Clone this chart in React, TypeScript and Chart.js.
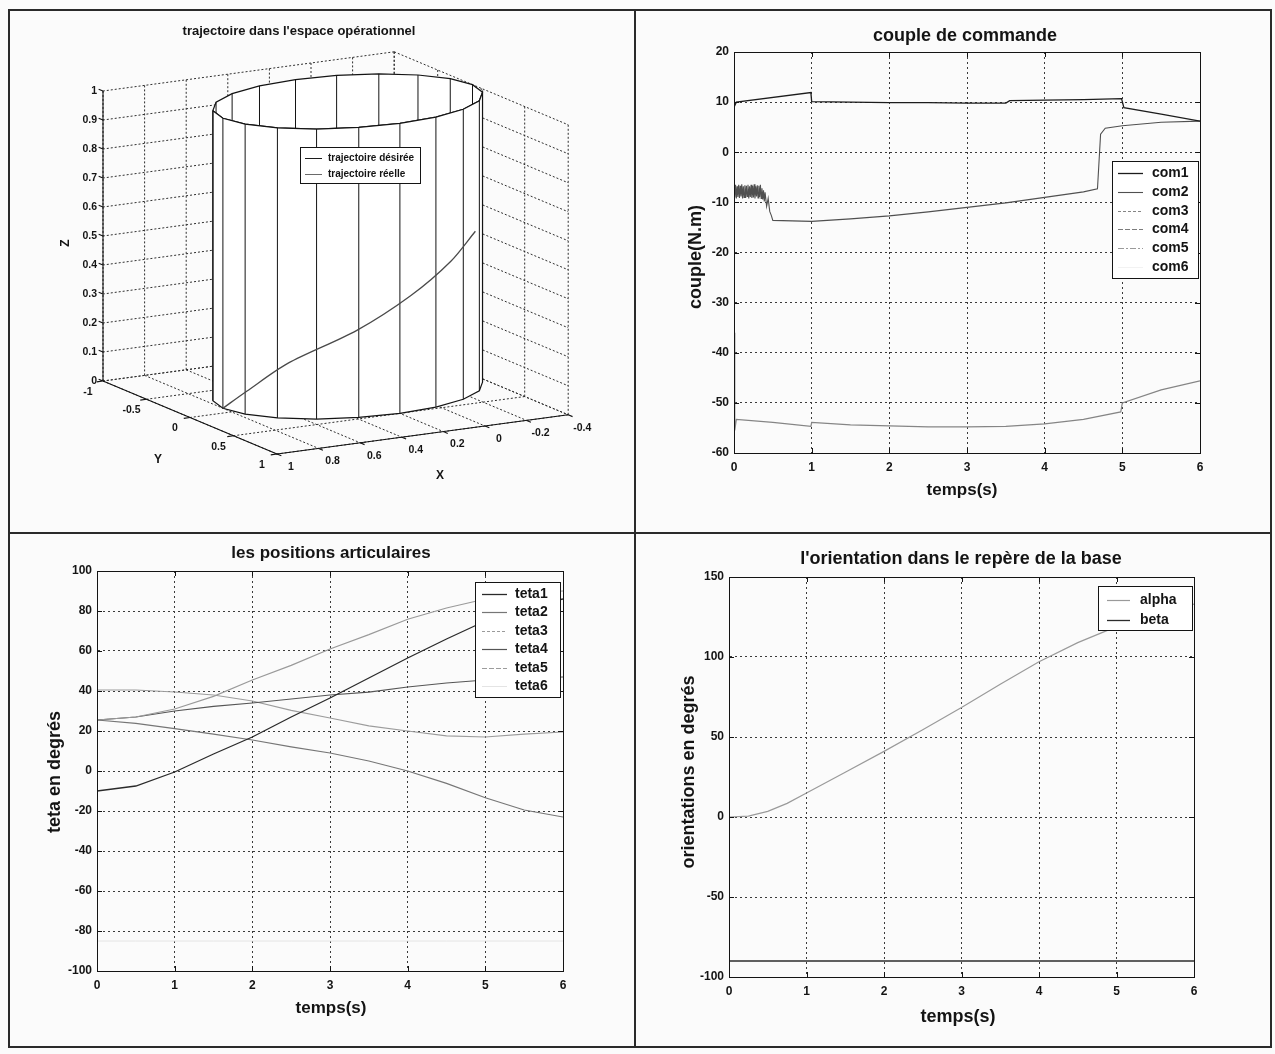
import React, { useEffect, useRef } from "react";
import { Chart, registerables } from "chart.js";

Chart.register(...registerables);

const FONT = "'Liberation Sans', Arial, Helvetica, sans-serif";
const INK = "#141414";

// ================= Panel 1 : 3D trajectory =================
const xTicks3D = [-0.4, -0.2, 0, 0.2, 0.4, 0.6, 0.8, 1];
const yTicks3D = [-1, -0.5, 0, 0.5, 1];
const zTicks3D = [0, 0.1, 0.2, 0.3, 0.4, 0.5, 0.6, 0.7, 0.8, 0.9, 1];
const xTickLabels3D = ["-0.4", "-0.2", "0", "0.2", "0.4", "0.6", "0.8", "1"];
const yTickLabels3D = ["-1", "-0.5", "0", "0.5", "1"];
const zTickLabels3D = ["0", "0.1", "0.2", "0.3", "0.4", "0.5", "0.6", "0.7", "0.8", "0.9", "1"];
const cylinderCenterXY = [0.2, -0.1];
const cylinderRadius = 0.6;
const cylinderZ = [0, 1];
const cylinderFaces = 20;
const helixAngleDeg = [0, 19, 41, 71, 95, 117, 138];
const helixZ = [0, 0.08, 0.19, 0.3, 0.4, 0.49, 0.56];
const legendLabels3D = ["trajectoire désirée", "trajectoire réelle"];

// ================= Panel 2 : couple de commande =================
const com1Time = [0, 0.03, 0.99, 1.0, 1.5, 2, 2.5, 3, 3.5, 3.55, 4, 4.5, 4.99, 5.02, 5.5, 6];
const com1Values = [9.0, 10.0, 11.9, 10.1, 10.0, 9.9, 9.9, 9.8, 9.8, 10.3, 10.4, 10.5, 10.7, 8.9, 7.6, 6.2];
const com2Time = [
  0, 0.01, 0.02, 0.03, 0.04, 0.05, 0.06, 0.07, 0.08, 0.09, 0.1, 0.11, 0.12, 0.13, 0.14, 0.15, 0.16, 0.17, 0.18, 0.19,
  0.2, 0.21, 0.22, 0.23, 0.24, 0.25, 0.26, 0.27, 0.28, 0.29, 0.3, 0.31, 0.32, 0.33, 0.34, 0.35, 0.36, 0.37, 0.38, 0.39,
  0.4, 0.42, 0.44, 0.46, 0.48, 0.5, 1, 1.5, 2, 2.5, 3, 3.5, 4, 4.5, 4.68, 4.72, 4.78, 5, 5.5, 6,
];
const com2Values = [
  -6.6, -9.0, -6.5, -9.2, -6.8, -8.9, -6.5, -9.1, -6.7, -8.8, -6.4, -9.2, -6.8, -9.0, -6.6, -9.1, -6.7, -8.8, -6.5, -9.2,
  -6.8, -8.9, -6.5, -9.1, -6.7, -9.0, -6.4, -9.2, -6.8, -8.8, -6.6, -9.1, -6.7, -8.9, -6.5, -9.2, -7.2, -9.4, -7.6, -9.8,
  -8.0, -10.8, -9.2, -11.8, -12.6, -13.6, -13.8, -13.3, -12.7, -11.9, -11.0, -10.1, -9.0, -7.9, -7.3, 3.6, 4.8, 5.3, 6.0, 6.2,
];
const com3Time = [0, 0.01, 0.03, 0.5, 0.99, 1.0, 1.5, 2, 2.5, 3, 3.5, 4, 4.5, 4.98, 5.0, 5.5, 6];
const com3Values = [-36, -55.5, -53.3, -53.9, -54.7, -53.9, -54.4, -54.6, -54.8, -54.8, -54.7, -54.2, -53.3, -51.8, -50.0, -47.4, -45.6];
const com4Time: number[] = [];
const com4Values: number[] = [];
const com5Time: number[] = [];
const com5Values: number[] = [];
const com6Time: number[] = [];
const com6Values: number[] = [];

// ================= Panel 3 : positions articulaires =================
const tetaTime = [0, 0.5, 1, 1.5, 2, 2.5, 3, 3.5, 4, 4.5, 5, 5.5, 6];
const teta1Values = [-10, -7.5, -0.5, 8.5, 17, 27, 36.5, 46.5, 56.5, 66, 75, 82, 86];
const teta2Values = [25.5, 23.8, 21.2, 18.4, 15.5, 12.1, 9.0, 5.0, 0, -6.2, -13.4, -19.5, -23];
const teta3Values = [25.5, 27, 31, 37.3, 45.5, 52.8, 61, 68.2, 75.9, 81.5, 86, 89, 90];
const teta4Values = [25.5, 27, 30, 32.3, 34, 36, 38, 39.4, 42, 44, 45.5, 46.5, 47];
const teta5Values = [40.5, 40.5, 39.5, 38, 35, 30.3, 26.5, 22.6, 20, 17.6, 17, 18.4, 19.5];
const teta6Values = [-85, -85, -85, -85, -85, -85, -85, -85, -85, -85, -85, -85, -85];

// ================= Panel 4 : orientation =================
const alphaTime = [0, 0.25, 0.5, 0.75, 1, 1.5, 2, 2.5, 3, 3.5, 4, 4.5, 5, 5.5, 6];
const alphaValues = [0, 0.5, 3.5, 8.5, 15, 28, 41, 54.5, 68.5, 83, 97, 109, 119, 127, 133];
const betaTime = [0, 6];
const betaValues = [-90, -90];

// ---------------------------------------------------------------
type Series = { label: string; t: number[]; v: number[]; color: string; width: number; legendDash?: number[] };
type Spec = {
  canvas: { left: number; top: number; width: number; height: number };
  plot: { left: number; top: number; right: number; bottom: number };
  x: [number, number, number];
  y: [number, number, number];
  series: Series[];
  title: { text: string; x: number; y: number; size: number };
  xLabel: { text: string; x: number; y: number; size: number };
  yLabel: { text: string; x: number; y: number; size: number };
  legend: { left: number; top: number; right: number; bottom: number; firstRow: number; rowStep: number; lineStart: number; lineEnd: number; textStart: number; size: number };
};

const couple: Spec = {
  canvas: { left: 637, top: 11, width: 632, height: 521 },
  plot: { left: 734, top: 52, right: 1200, bottom: 453 },
  x: [0, 6, 1],
  y: [-60, 20, 10],
  series: [
    { label: "com1", t: com1Time, v: com1Values, color: "#1c1c1c", width: 1.3 },
    { label: "com2", t: com2Time, v: com2Values, color: "#505050", width: 1.1 },
    { label: "com3", t: com3Time, v: com3Values, color: "#858585", width: 1.2, legendDash: [3, 2] },
    { label: "com4", t: com4Time, v: com4Values, color: "#7c7c7c", width: 1.1, legendDash: [5, 2] },
    { label: "com5", t: com5Time, v: com5Values, color: "#9a9a9a", width: 1.1, legendDash: [6, 2, 2, 2] },
    { label: "com6", t: com6Time, v: com6Values, color: "#f2f2f2", width: 1 },
  ],
  title: { text: "couple de commande", x: 965, y: 36, size: 18 },
  xLabel: { text: "temps(s)", x: 962, y: 490, size: 17 },
  yLabel: { text: "couple(N.m)", x: 696, y: 257, size: 18 },
  legend: { left: 1112, top: 161, right: 1198, bottom: 278, firstRow: 173, rowStep: 18.8, lineStart: 1118, lineEnd: 1143, textStart: 1152, size: 14 },
};

const positions: Spec = {
  canvas: { left: 10, top: 536, width: 623, height: 510 },
  plot: { left: 97, top: 571, right: 563, bottom: 971 },
  x: [0, 6, 1],
  y: [-100, 100, 20],
  series: [
    { label: "teta1", t: tetaTime, v: teta1Values, color: "#2a2a2a", width: 1.3 },
    { label: "teta2", t: tetaTime, v: teta2Values, color: "#767676", width: 1.2 },
    { label: "teta3", t: tetaTime, v: teta3Values, color: "#9a9a9a", width: 1.2, legendDash: [3, 2] },
    { label: "teta4", t: tetaTime, v: teta4Values, color: "#555555", width: 1.2 },
    { label: "teta5", t: tetaTime, v: teta5Values, color: "#9c9c9c", width: 1.2, legendDash: [5, 2] },
    { label: "teta6", t: tetaTime, v: teta6Values, color: "#e4e4e4", width: 1 },
  ],
  title: { text: "les positions articulaires", x: 331, y: 553, size: 17 },
  xLabel: { text: "temps(s)", x: 331, y: 1008, size: 17 },
  yLabel: { text: "teta en degrés", x: 55, y: 772, size: 18 },
  legend: { left: 475, top: 582, right: 560, bottom: 697, firstRow: 594, rowStep: 18.4, lineStart: 482, lineEnd: 507, textStart: 515, size: 14 },
};

const orientation: Spec = {
  canvas: { left: 637, top: 538, width: 632, height: 508 },
  plot: { left: 729, top: 577, right: 1194, bottom: 977 },
  x: [0, 6, 1],
  y: [-100, 150, 50],
  series: [
    { label: "alpha", t: alphaTime, v: alphaValues, color: "#9a9a9a", width: 1.2 },
    { label: "beta", t: betaTime, v: betaValues, color: "#2c2c2c", width: 1.3 },
  ],
  title: { text: "l'orientation dans le repère de la base", x: 961, y: 559, size: 18 },
  xLabel: { text: "temps(s)", x: 958, y: 1017, size: 18 },
  yLabel: { text: "orientations en degrés", x: 689, y: 772, size: 18 },
  legend: { left: 1098, top: 586, right: 1192, bottom: 630, firstRow: 600, rowStep: 20, lineStart: 1107, lineEnd: 1130, textStart: 1140, size: 14 },
};

function makeDecor(spec: Spec) {
  return {
    id: "matlabDecor",
    afterDatasetsDraw(chart: any) {
      const { ctx, chartArea: a } = chart;
      const xs = chart.scales.x;
      const ys = chart.scales.y;
      const c = spec.canvas;
      ctx.save();
      ctx.strokeStyle = INK;
      ctx.lineWidth = 1;
      ctx.setLineDash([]);
      ctx.strokeRect(Math.round(a.left) + 0.5, Math.round(a.top) + 0.5, Math.round(a.right - a.left), Math.round(a.bottom - a.top));
      ctx.beginPath();
      for (const tk of xs.ticks) {
        const px = Math.round(xs.getPixelForValue(tk.value)) + 0.5;
        ctx.moveTo(px, a.bottom);
        ctx.lineTo(px, a.bottom - 5);
        ctx.moveTo(px, a.top);
        ctx.lineTo(px, a.top + 5);
      }
      for (const tk of ys.ticks) {
        const py = Math.round(ys.getPixelForValue(tk.value)) + 0.5;
        ctx.moveTo(a.left, py);
        ctx.lineTo(a.left + 5, py);
        ctx.moveTo(a.right, py);
        ctx.lineTo(a.right - 5, py);
      }
      ctx.stroke();
      // legend
      const L = spec.legend;
      const bx = L.left - c.left;
      const by = L.top - c.top;
      ctx.fillStyle = "#ffffff";
      ctx.fillRect(bx, by, L.right - L.left, L.bottom - L.top);
      ctx.strokeStyle = INK;
      ctx.strokeRect(bx + 0.5, by + 0.5, L.right - L.left, L.bottom - L.top);
      ctx.font = `bold ${L.size}px ${FONT}`;
      ctx.textBaseline = "middle";
      ctx.textAlign = "left";
      spec.series.forEach((s, i) => {
        const yy = Math.round(L.firstRow + i * L.rowStep - c.top) + 0.5;
        ctx.strokeStyle = s.color;
        ctx.lineWidth = s.width;
        ctx.setLineDash(s.legendDash || []);
        ctx.beginPath();
        ctx.moveTo(L.lineStart - c.left, yy);
        ctx.lineTo(L.lineEnd - c.left, yy);
        ctx.stroke();
        ctx.setLineDash([]);
        ctx.fillStyle = INK;
        ctx.fillText(s.label, L.textStart - c.left, yy);
      });
      ctx.restore();
    },
    afterDraw(chart: any) {
      const { ctx } = chart;
      const c = spec.canvas;
      ctx.save();
      ctx.fillStyle = INK;
      ctx.textAlign = "center";
      ctx.textBaseline = "middle";
      ctx.font = `bold ${spec.title.size}px ${FONT}`;
      ctx.fillText(spec.title.text, spec.title.x - c.left, spec.title.y - c.top);
      ctx.font = `bold ${spec.xLabel.size}px ${FONT}`;
      ctx.fillText(spec.xLabel.text, spec.xLabel.x - c.left, spec.xLabel.y - c.top);
      ctx.translate(spec.yLabel.x - c.left, spec.yLabel.y - c.top);
      ctx.rotate(-Math.PI / 2);
      ctx.font = `bold ${spec.yLabel.size}px ${FONT}`;
      ctx.fillText(spec.yLabel.text, 0, 0);
      ctx.restore();
    },
  };
}

function buildConfig(spec: Spec): any {
  const c = spec.canvas;
  const p = spec.plot;
  const datasets = spec.series.map((s) => ({
    label: s.label,
    data: s.t.map((t, i) => ({ x: t, y: s.v[i] })),
    borderColor: s.color,
    backgroundColor: s.color,
    borderWidth: s.width,
    pointRadius: 0,
    tension: 0,
    fill: false,
  }));
  const tickFont = { family: FONT, size: 12, weight: "bold" as const };
  return {
    type: "line",
    data: { datasets },
    options: {
      animation: false,
      responsive: false,
      events: [],
      layout: { padding: { left: 0, bottom: 0, top: p.top - c.top, right: c.left + c.width - p.right } },
      scales: {
        x: {
          type: "linear",
          min: spec.x[0],
          max: spec.x[1],
          ticks: { stepSize: spec.x[2], color: INK, font: tickFont, padding: 7, maxRotation: 0, autoSkip: false },
          grid: { color: "#3a3a3a", lineWidth: 1, drawTicks: false },
          border: { display: true, color: INK, dash: [2, 3] },
          afterFit: (sc: any) => {
            sc.height = c.top + c.height - p.bottom;
          },
        },
        y: {
          type: "linear",
          min: spec.y[0],
          max: spec.y[1],
          ticks: { stepSize: spec.y[2], color: INK, font: tickFont, padding: 5, autoSkip: false },
          grid: { color: "#3a3a3a", lineWidth: 1, drawTicks: false },
          border: { display: true, color: INK, dash: [2, 3] },
          afterFit: (sc: any) => {
            sc.width = p.left - c.left;
          },
        },
      },
      plugins: { legend: { display: false }, tooltip: { enabled: false }, title: { display: false } },
    },
    plugins: [makeDecor(spec)],
  };
}

function LinePanel({ spec }: { spec: Spec }) {
  const ref = useRef<HTMLCanvasElement | null>(null);
  useEffect(() => {
    if (!ref.current) return;
    const chart = new Chart(ref.current, buildConfig(spec));
    return () => chart.destroy();
  }, [spec]);
  const c = spec.canvas;
  return (
    <canvas
      ref={ref}
      width={c.width}
      height={c.height}
      style={{ position: "absolute", left: c.left, top: c.top, width: c.width, height: c.height }}
    />
  );
}

// ================= 3D panel =================
const CANVAS3D = { left: 10, top: 11, width: 622, height: 520 };
const VIEW3D = { originX: 277, originY: 454, xStep: [-208, 28], yStep: [87, 36.5], zStep: 290 };

function proj(X: number, Y: number, Z: number) {
  return {
    x: VIEW3D.originX + (X - 1) * VIEW3D.xStep[0] + (Y - 1) * VIEW3D.yStep[0] - CANVAS3D.left,
    y: VIEW3D.originY + (X - 1) * VIEW3D.xStep[1] + (Y - 1) * VIEW3D.yStep[1] - Z * VIEW3D.zStep - CANVAS3D.top,
  };
}

type P3 = [number, number, number];
function polylines(list: P3[][]) {
  const out: { x: number; y: number }[] = [];
  list.forEach((poly, i) => {
    if (i) out.push({ x: NaN, y: NaN });
    poly.forEach((pt) => out.push(proj(pt[0], pt[1], pt[2])));
  });
  return out;
}

function build3DConfig(): any {
  const xMin = xTicks3D[0];
  const xMax = xTicks3D[xTicks3D.length - 1];
  const yMin = yTicks3D[0];
  const yMax = yTicks3D[yTicks3D.length - 1];
  const zMin = zTicks3D[0];
  const zMax = zTicks3D[zTicks3D.length - 1];
  const dotted = { borderColor: "#2e2e2e", borderWidth: 1, borderDash: [2, 2] };
  const solid = { borderColor: INK, borderWidth: 1.1 };

  const floor: P3[][] = [
    ...xTicks3D.map((x) => [[x, yMin, zMin], [x, yMax, zMin]] as P3[]),
    ...yTicks3D.map((y) => [[xMin, y, zMin], [xMax, y, zMin]] as P3[]),
  ];
  const wallY: P3[][] = [
    ...xTicks3D.map((x) => [[x, yMin, zMin], [x, yMin, zMax]] as P3[]),
    ...zTicks3D.map((z) => [[xMin, yMin, z], [xMax, yMin, z]] as P3[]),
  ];
  const wallX: P3[][] = [
    ...yTicks3D.map((y) => [[xMin, y, zMin], [xMin, y, zMax]] as P3[]),
    ...zTicks3D.map((z) => [[xMin, yMin, z], [xMin, yMax, z]] as P3[]),
  ];
  const axes: P3[][] = [
    [[xMax, yMin, zMin], [xMax, yMin, zMax]],
    [[xMax, yMin, zMin], [xMax, yMax, zMin]],
    [[xMax, yMax, zMin], [xMin, yMax, zMin]],
  ];
  const ticks: P3[][] = [
    ...zTicks3D.map((z) => [[xMax, yMin, z], [xMax, yMin - 0.05, z]] as P3[]),
    ...yTicks3D.map((y) => [[xMax, y, zMin], [xMax + 0.03, y, zMin]] as P3[]),
    ...xTicks3D.map((x) => [[x, yMax, zMin], [x, yMax + 0.05, zMin]] as P3[]),
  ];

  const [cx, cy] = cylinderCenterXY;
  const r = cylinderRadius;
  const angles = Array.from({ length: cylinderFaces }, (_, k) => (2 * Math.PI * k) / cylinderFaces);
  const vtx = (a: number, z: number): P3 => [cx + r * Math.cos(a), cy + r * Math.sin(a), z];
  const screenX = angles.map((a) => proj(...vtx(a, 0)).x);
  let kL = 0;
  let kR = 0;
  screenX.forEach((v, k) => {
    if (v < screenX[kL]) kL = k;
    if (v > screenX[kR]) kR = k;
  });
  const front: number[] = [];
  for (let k = kL; ; k = (k + 1) % cylinderFaces) {
    front.push(k);
    if (k === kR) break;
  }
  const back = angles.map((_, k) => k).filter((k) => !front.includes(k));
  const [z0, z1] = cylinderZ;

  const topRim: P3[] = [...angles, angles[0]].map((a) => vtx(a, z1));
  const frontShape: P3[] = [
    ...front.map((k) => vtx(angles[k], z1)),
    ...front.slice().reverse().map((k) => vtx(angles[k], z0)),
    vtx(angles[front[0]], z1),
  ];
  const backLines: P3[][] = back.map((k) => [vtx(angles[k], z0), vtx(angles[k], z1)]);
  const frontLines: P3[][] = front.map((k) => [vtx(angles[k], z0), vtx(angles[k], z1)]);
  const helix: P3[] = helixAngleDeg.map((d, i) => vtx((d * Math.PI) / 180, helixZ[i]));

  const base = { pointRadius: 0, fill: false, tension: 0, spanGaps: false };
  const datasets: any[] = [
    { ...base, label: "floor", data: polylines(floor), ...dotted },
    { ...base, label: "wallY", data: polylines(wallY), ...dotted },
    { ...base, label: "wallX", data: polylines(wallX), ...dotted },
    { ...base, label: "axes", data: polylines(axes), ...solid },
    { ...base, label: "ticks", data: polylines(ticks), ...solid },
    { ...base, label: "top", data: polylines([topRim]), borderColor: INK, borderWidth: 1.2, fill: "shape", backgroundColor: "#ffffff" },
    { ...base, label: "back", data: polylines(backLines), borderColor: INK, borderWidth: 1 },
    { ...base, label: "front", data: polylines([frontShape]), borderColor: INK, borderWidth: 1.2, fill: "shape", backgroundColor: "#ffffff" },
    { ...base, label: "frontLines", data: polylines(frontLines), borderColor: INK, borderWidth: 1 },
    { ...base, label: legendLabels3D[1], data: polylines([helix]), borderColor: "#4a4a4a", borderWidth: 1.3, tension: 0.3 },
  ];
  datasets.forEach((d, i) => (d.order = datasets.length - i));

  const textPlugin = {
    id: "text3d",
    afterDraw(chart: any) {
      const { ctx } = chart;
      const off = (x: number, y: number) => ({ x: x - CANVAS3D.left, y: y - CANVAS3D.top });
      ctx.save();
      ctx.fillStyle = INK;
      ctx.textBaseline = "middle";
      // title
      ctx.font = `bold 13px ${FONT}`;
      ctx.textAlign = "center";
      const t = off(299, 31);
      ctx.fillText("trajectoire dans l'espace opérationnel", t.x, t.y);
      // tick labels
      ctx.font = `bold 10.5px ${FONT}`;
      ctx.textAlign = "right";
      zTicks3D.forEach((z, i) => {
        const p = proj(xMax, yMin, z);
        ctx.fillText(zTickLabels3D[i], p.x - 6, p.y);
      });
      ctx.textAlign = "center";
      yTicks3D.forEach((y, i) => {
        const p = proj(xMax, y, zMin);
        ctx.fillText(yTickLabels3D[i], p.x - 15, p.y + 11);
      });
      xTicks3D.forEach((x, i) => {
        const p = proj(x, yMax, zMin);
        ctx.fillText(xTickLabels3D[i], p.x + 14, p.y + 13);
      });
      // axis labels
      ctx.font = `bold 12px ${FONT}`;
      const yl = off(158, 460);
      ctx.fillText("Y", yl.x, yl.y);
      const xl = off(440, 476);
      ctx.fillText("X", xl.x, xl.y);
      const zl = off(66, 243);
      ctx.save();
      ctx.translate(zl.x, zl.y);
      ctx.rotate(-Math.PI / 2);
      ctx.fillText("Z", 0, 0);
      ctx.restore();
      // legend
      const b0 = off(300, 147);
      ctx.fillStyle = "#ffffff";
      ctx.fillRect(b0.x, b0.y, 120, 36);
      ctx.strokeStyle = INK;
      ctx.lineWidth = 1;
      ctx.strokeRect(b0.x + 0.5, b0.y + 0.5, 120, 36);
      const colors = ["#1c1c1c", "#6a6a6a"];
      ctx.font = `bold 10px ${FONT}`;
      ctx.textAlign = "left";
      legendLabels3D.forEach((lab, i) => {
        const row = off(0, 158 + i * 16);
        const ly = Math.round(row.y) + 0.5;
        ctx.strokeStyle = colors[i];
        ctx.beginPath();
        ctx.moveTo(b0.x + 5, ly);
        ctx.lineTo(b0.x + 22, ly);
        ctx.stroke();
        ctx.fillStyle = INK;
        ctx.fillText(lab, b0.x + 28, ly);
      });
      ctx.restore();
    },
  };

  return {
    type: "line",
    data: { datasets },
    options: {
      animation: false,
      responsive: false,
      events: [],
      layout: { padding: 0 },
      scales: {
        x: { type: "linear", display: false, min: 0, max: CANVAS3D.width },
        y: { type: "linear", display: false, min: 0, max: CANVAS3D.height, reverse: true },
      },
      plugins: { legend: { display: false }, tooltip: { enabled: false }, title: { display: false } },
    },
    plugins: [textPlugin],
  };
}

function Trajectory3D() {
  const ref = useRef<HTMLCanvasElement | null>(null);
  useEffect(() => {
    if (!ref.current) return;
    const chart = new Chart(ref.current, build3DConfig());
    return () => chart.destroy();
  }, []);
  return (
    <canvas
      ref={ref}
      width={CANVAS3D.width}
      height={CANVAS3D.height}
      style={{ position: "absolute", left: CANVAS3D.left, top: CANVAS3D.top, width: CANVAS3D.width, height: CANVAS3D.height }}
    />
  );
}

export default function App() {
  const line = "#2a2a2a";
  return (
    <div style={{ position: "absolute", left: 0, top: 0, width: 1275, height: 1054, background: "#fbfbfb", overflow: "hidden" }}>
      <Trajectory3D />
      <LinePanel spec={couple} />
      <LinePanel spec={positions} />
      <LinePanel spec={orientation} />
      <div style={{ position: "absolute", left: 8, top: 9, width: 1264, height: 1039, border: `2px solid ${line}`, boxSizing: "border-box", pointerEvents: "none" }} />
      <div style={{ position: "absolute", left: 634, top: 9, width: 2, height: 1039, background: line }} />
      <div style={{ position: "absolute", left: 8, top: 532, width: 1264, height: 2, background: line }} />
    </div>
  );
}
